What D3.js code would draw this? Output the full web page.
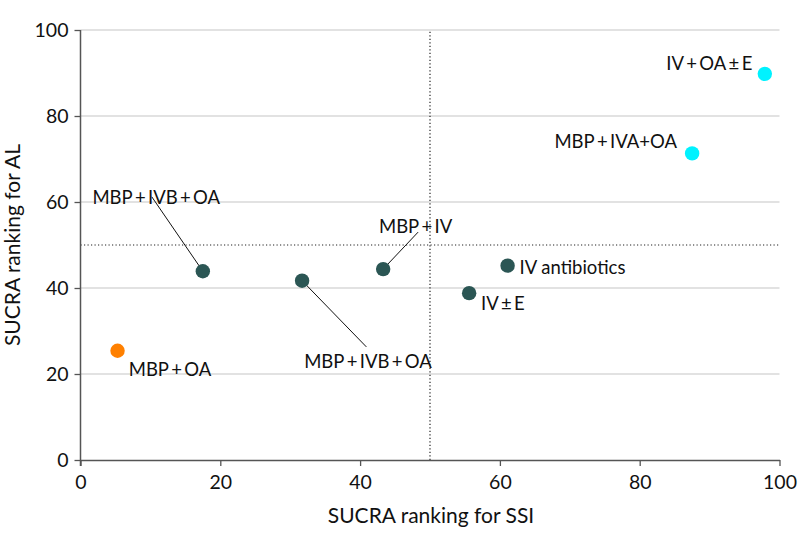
<!DOCTYPE html>
<html><head><meta charset="utf-8">
<script src="https://cdn.jsdelivr.net/npm/d3@7/dist/d3.min.js"></script>
<style>
body{margin:0;background:#fff;}
svg text{font-family:Lato,"DejaVu Sans Condensed",sans-serif;fill:#111;}
</style></head>
<body><svg id="c" width="798" height="545"></svg>
<script>
const labels = ["MBP\u2009+\u2009OA","MBP\u2009+\u2009IVB\u2009+\u2009OA","MBP\u2009+\u2009IVB\u2009+\u2009OA","MBP\u2009+\u2009IV","IV antibiotics","IV\u2009±\u2009E","MBP\u2009+\u2009IVA+OA","IV\u2009+\u2009OA\u2009±\u2009E"];
const ssi = [5.3, 17.5, 31.7, 43.3, 61.1, 55.6, 87.5, 97.9];
const al  = [25.4, 43.9, 41.7, 44.4, 45.2, 38.8, 71.3, 89.8];
const group = ["low","mid","mid","mid","mid","mid","high","high"];
const xTicks = [0,20,40,60,80,100];
const yTicks = [0,20,40,60,80,100];
// label offsets (value units, relative to point); leader-line end offsets
const labelDx = [1.6, -15.8, 0.3, -0.6, 1.7, 1.7, -19.7, -14.1];
const labelDy = [-5.9, 15.6, -20.4, 8.5, -1.9, -4, 1.3, 1.0];
const leadDx  = [null, -7.3, 9.2, 5.0, null, null, null, null];
const leadDy  = [null, 17.3, -15.4, 8.6, null, null, null, null];

const colors = {low:"#ff8000", mid:"#2b5654", high:"#00f2ff"};
const svg = d3.select("#c");
const x = d3.scaleLinear().domain([0,100]).range([80.5,779.5]);
const y = d3.scaleLinear().domain([0,100]).range([460,30]);

// grid
svg.append("g").selectAll("line").data(yTicks.filter(d=>d>0)).join("line")
  .attr("x1",x(0)).attr("x2",x(100)).attr("y1",d=>y(d)).attr("y2",d=>y(d))
  .attr("stroke","#d9d9d9").attr("stroke-width",1.5);

// reference dotted lines
svg.append("line").attr("x1",x(50)).attr("x2",x(50)).attr("y1",y(0)).attr("y2",y(100))
  .attr("stroke","#222").attr("stroke-width",1.2).attr("stroke-dasharray","1.2,2.3");
svg.append("line").attr("x1",x(0)).attr("x2",x(100)).attr("y1",y(50)).attr("y2",y(50))
  .attr("stroke","#222").attr("stroke-width",1.2).attr("stroke-dasharray","1.2,2.3");

// axes
const xa = svg.append("g").attr("transform",`translate(0,${y(0)})`)
  .call(d3.axisBottom(x).tickValues(xTicks).tickSize(6).tickSizeOuter(0).tickPadding(9));
const ya = svg.append("g").attr("transform",`translate(${x(0)},0)`)
  .call(d3.axisLeft(y).tickValues(yTicks).tickSize(6).tickSizeOuter(0).tickPadding(6));
[xa,ya].forEach(a=>{
  a.selectAll(".domain").attr("stroke","#555").attr("stroke-width",1.5);
  a.selectAll(".tick line").attr("stroke","#555").attr("stroke-width",1.3);
  a.selectAll("text").attr("font-size",19.5).attr("fill","#111")
   .style("font-family",'Lato,"DejaVu Sans Condensed",sans-serif');
});
ya.select(".domain").attr("d",`M0,${y(100)}V${y(0)+6}`);

svg.append("text").attr("x",431).attr("y",523).attr("text-anchor","middle")
  .attr("font-size",21).text("SUCRA ranking for SSI");
svg.append("text").attr("transform",`translate(20,245) rotate(-90)`).attr("text-anchor","middle")
  .attr("font-size",21).text("SUCRA ranking for AL");

const data = labels.map((l,i)=>({l, x:ssi[i], y:al[i], g:group[i], dx:labelDx[i], dy:labelDy[i], ldx:leadDx[i], ldy:leadDy[i]}));

// leader lines
svg.append("g").selectAll("line").data(data.filter(d=>d.ldx!==null)).join("line")
  .attr("x1",d=>x(d.x)).attr("y1",d=>y(d.y))
  .attr("x2",d=>x(d.x+d.ldx)).attr("y2",d=>y(d.y+d.ldy))
  .attr("stroke","#111").attr("stroke-width",1);

// points
svg.append("g").selectAll("circle").data(data).join("circle")
  .attr("cx",d=>x(d.x)).attr("cy",d=>y(d.y)).attr("r",7.2).attr("fill",d=>colors[d.g]);

// labels
svg.append("g").selectAll("text").data(data).join("text")
  .attr("x",d=>x(d.x+d.dx)).attr("y",d=>y(d.y+d.dy))
  .attr("font-size",18.5).text(d=>d.l);
</script></body></html>
